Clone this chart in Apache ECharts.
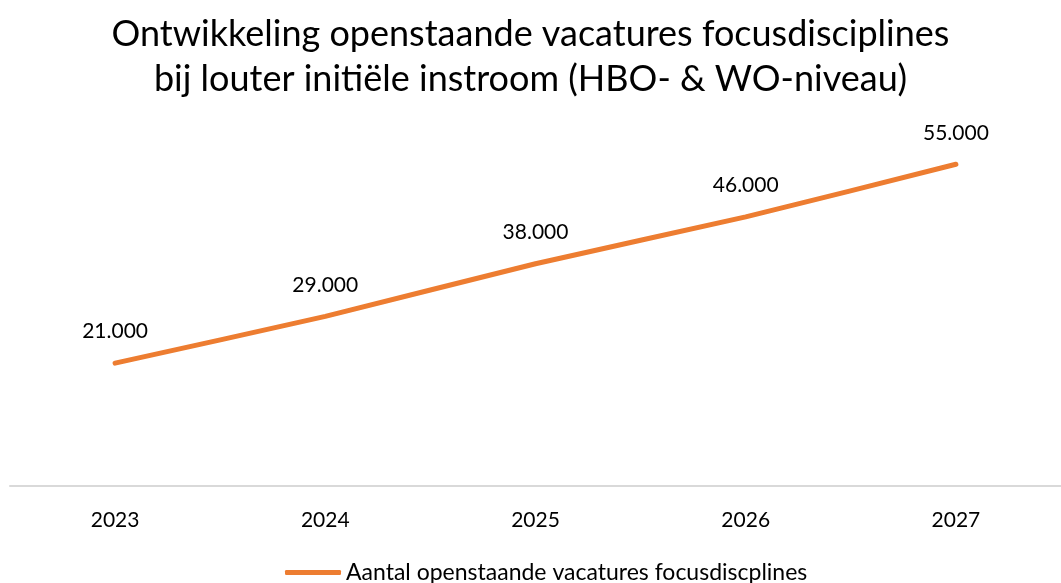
<!DOCTYPE html>
<html>
<head>
<meta charset="utf-8">
<script src="https://cdn.jsdelivr.net/npm/echarts@6/dist/echarts.min.js"></script>
<style>
  html, body { margin: 0; padding: 0; background: #fff; }
  #chart { width: 1061px; height: 583px; }
</style>
</head>
<body>
<div id="chart"></div>
<script>
  const years = ['2023', '2024', '2025', '2026', '2027']
  const vacatures = [21000, 29000, 38000, 46000, 55000]
  const seriesName = 'Aantal openstaande vacatures focusdiscplines'

  const chart = echarts.init(document.getElementById('chart'))
  const font = 'Lato, "Open Sans", sans-serif'

  chart.setOption({
    animation: false,
    title: {
      text: 'Ontwikkeling openstaande vacatures focusdisciplines\nbij louter initiële instroom (HBO- & WO-niveau)',
      left: 'center',
      top: 7,
      textStyle: {
        fontFamily: font,
        fontWeight: 'normal',
        fontSize: 36,
        lineHeight: 45,
        color: '#000'
      }
    },
    legend: {
      bottom: -6,
      left: 280,
      itemWidth: 56,
      itemHeight: 5,
      itemGap: 4,
      icon: 'roundRect',
      textStyle: { fontFamily: font, fontSize: 23, color: '#000' },
      data: [seriesName]
    },
    grid: { left: 10, right: -5, top: 135, bottom: 97, containLabel: false },
    xAxis: {
      type: 'category',
      data: years,
      boundaryGap: true,
      axisLine: { lineStyle: { color: '#d9d9d9', width: 2 } },
      axisTick: { show: false },
      axisLabel: { margin: 24, fontFamily: font, fontSize: 21, color: '#000' }
    },
    yAxis: {
      type: 'value',
      min: 0,
      max: 60000,
      show: false,
      splitLine: { show: false }
    },
    series: [{
      name: seriesName,
      type: 'line',
      data: vacatures,
      smooth: 0.15,
      showSymbol: true,
      symbol: 'circle',
      symbolSize: 0,
      lineStyle: { color: '#ED7D31', width: 5, cap: 'round' },
      itemStyle: { color: '#ED7D31' },
      label: {
        show: true,
        position: 'top',
        distance: 21,
        fontFamily: font,
        fontSize: 21,
        color: '#000',
        formatter: p => p.value.toLocaleString('de-DE')
      }
    }]
  })
</script>
</body>
</html>
